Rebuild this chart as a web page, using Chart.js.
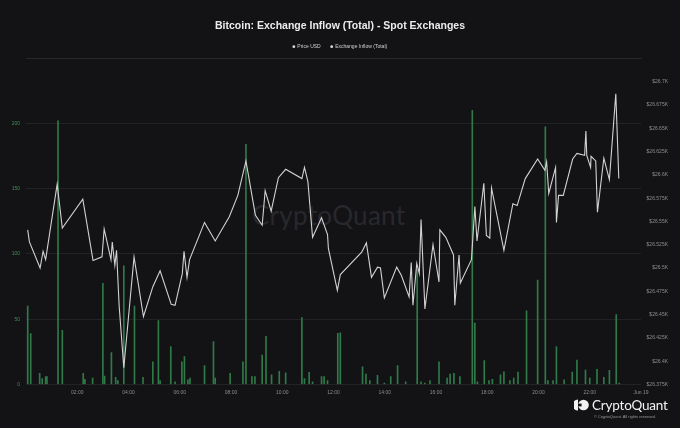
<!DOCTYPE html>
<html>
<head>
<meta charset="utf-8">
<script src="https://cdn.jsdelivr.net/npm/chart.js@4.4.0/dist/chart.umd.min.js"></script>
<style>
  html, body { margin: 0; padding: 0; background: #131316; }
  #wrap { position: relative; width: 680px; height: 428px; overflow: hidden; }
  #chart { position: absolute; left: 0; top: 0; z-index: 1; }
  #watermark {
    position: absolute; left: 252px; top: 199px; z-index: 0;
    font-family: Lato, sans-serif; font-size: 26px; color: #28282d; letter-spacing: 0.3px;
  }
  #logo { position: absolute; left: 574px; top: 397px; z-index: 2; display: flex; align-items: center; }
  #logo span { font-family: Lato, sans-serif; font-size: 13.5px; color: #f2f2f2; margin-left: 3px; letter-spacing: -0.2px; }
  #copy {
    position: absolute; left: 594px; top: 414px; z-index: 2;
    font-family: 'Liberation Sans', Arial, sans-serif; font-size: 4px; color: #9a9a9a;
  }
</style>
</head>
<body>
<div id="wrap">
  <div id="watermark">CryptoQuant</div>
  <canvas id="chart" width="680" height="428"></canvas>
  <div id="logo">
    <svg width="15" height="12" viewBox="0 0 15 12">
      <path d="M4 0.5 A5.5 5.5 0 0 0 4 11.5 Z" fill="#f2f2f2"/>
      <circle cx="9.5" cy="6" r="5.3" fill="#f2f2f2"/>
      <rect x="4" y="4.6" width="3.6" height="2.8" fill="#131316"/>
    </svg>
    <span>CryptoQuant</span>
  </div>
  <div id="copy">© CryptoQuant. All rights reserved.</div>
</div>
<script>
// Precio BTC (minutos desde las 00:00 del 18 jun)
const priceTimes = [4, 8, 33, 40, 46, 73, 85, 133, 157, 178,
  183, 199, 202, 208, 212, 218, 229, 253, 275, 297,
  314, 340, 349, 366, 370, 377, 383, 418, 443, 476,
  496, 515, 537, 553, 560, 574, 591, 608, 646, 652,
  660, 671, 692, 706, 708, 729, 736, 786, 797, 809,
  823, 830, 839, 868, 879, 897, 902, 906, 915, 921,
  925, 934, 953, 967, 969, 983, 1001, 1004, 1014, 1017,
  1043, 1051, 1056, 1072, 1078, 1086, 1090, 1119, 1140, 1150,
  1169, 1198, 1215, 1219, 1224, 1240, 1242, 1247, 1258, 1280,
  1290, 1308, 1311, 1313, 1322, 1323, 1334, 1338, 1353, 1366,
  1381, 1388];
const priceValues = [26541, 26528, 26500, 26518, 26509, 26590, 26543, 26574, 26508, 26512,
  26542, 26509, 26528, 26503, 26519, 26460, 26393, 26512, 26448, 26480,
  26497, 26461, 26460, 26494, 26518, 26490, 26509, 26549, 26529, 26555,
  26578, 26615, 26557, 26546, 26583, 26561, 26597, 26606, 26596, 26608,
  26593, 26533, 26554, 26536, 26521, 26476, 26493, 26517, 26527, 26490,
  26501, 26500, 26468, 26501, 26492, 26469, 26506, 26460, 26505, 26494,
  26552, 26456, 26525, 26485, 26541, 26533, 26514, 26460, 26514, 26484,
  26509, 26566, 26529, 26591, 26535, 26532, 26586, 26519, 26569, 26567,
  26596, 26617, 26605, 26614, 26580, 26608, 26549, 26578, 26578, 26617,
  26623, 26621, 26647, 26621, 26608, 26620, 26615, 26560, 26618, 26595,
  26687, 26596];

// Exchange inflow por bloque
const inflowTimes = [4, 11, 32, 38, 46, 49, 75, 85, 134, 138,
  156, 180, 184, 200, 210, 215, 229, 254, 274, 297,
  310, 314, 339, 349, 365, 371, 379, 384, 418, 439,
  443, 478, 508, 515, 529, 536, 553, 562, 575, 593,
  608, 646, 652, 663, 671, 692, 698, 706, 730, 736,
  788, 796, 805, 823, 839, 854, 870, 889, 916, 925,
  934, 946, 967, 986, 993, 1002, 1016, 1045, 1051, 1057,
  1073, 1084, 1092, 1111, 1119, 1133, 1142, 1152, 1172, 1198,
  1216, 1222, 1234, 1242, 1260, 1279, 1290, 1310, 1320, 1337,
  1353, 1366, 1382, 1389];
const inflowValues = [60, 39, 8.5, 4.5, 6, 6, 202, 41.5, 8.5, 4,
  5, 77.5, 6.5, 24.4, 5.5, 3, 91, 60, 5.5, 17.4,
  49, 3, 29, 2, 17.4, 21.3, 3.5, 5, 14.5, 32.8,
  5, 8.5, 17.4, 184, 6, 6, 22.6, 37, 7.5, 10,
  9, 51.3, 4.5, 9.3, 2, 6, 6, 3, 39.3, 39.5,
  13.5, 8, 3, 7, 1, 6, 14.5, 2, 88, 2,
  1, 3, 17.3, 5, 8, 8.5, 6, 210, 47, 2,
  18.3, 3, 4, 7.5, 9.8, 3, 5, 9.6, 56.5, 80,
  197.5, 3, 3, 29, 3.5, 9.5, 18.8, 11, 5, 11.7,
  5.5, 10.8, 53.5, 1];

const xTickValues = [120, 240, 360, 480, 600, 720, 840, 960, 1080, 1200, 1320, 1440];
const xTickLabels = ['02:00', '04:00', '06:00', '08:00', '10:00', '12:00', '14:00', '16:00', '18:00', '20:00', '22:00', 'Jun 19'];
const inflowTicks = [0, 50, 100, 150, 200];
const priceTicks = [26375, 26400, 26425, 26450, 26475, 26500, 26525, 26550, 26575, 26600, 26625, 26650, 26675, 26700];

Chart.defaults.font.family = "'Liberation Sans', Arial, sans-serif";

// hueco entre la leyenda y el área del gráfico, con la línea separadora
const headerGap = {
  id: 'headerGap',
  beforeInit(chart) {
    Chart.layouts.addBox(chart, {
      position: 'top', weight: 10, fullSize: true,
      options: {},
      left: 0, top: 0, right: 0, bottom: 0, width: 0, height: 0,
      update(maxWidth) { this.width = maxWidth; this.height = 22.5; },
      isHorizontal() { return true; },
      draw() {}
    });
  },
  afterDraw(chart) {
    const ctx = chart.ctx;
    ctx.save();
    ctx.strokeStyle = '#28282c';
    ctx.lineWidth = 1;
    ctx.beginPath();
    ctx.moveTo(26, 58.5);
    ctx.lineTo(642, 58.5);
    ctx.stroke();
    ctx.restore();
  }
};

new Chart(document.getElementById('chart'), {
  type: 'bar',
  data: {
    datasets: [{
      type: 'line',
      label: 'Price USD',
      data: priceTimes.map((t, i) => ({ x: t, y: priceValues[i] })),
      yAxisID: 'yPrice',
      borderColor: '#d2d2d2',
      backgroundColor: '#d2d2d2',
      borderWidth: 1.1,
      pointRadius: 0,
      tension: 0,
      order: 0
    }, {
      type: 'bar',
      label: 'Exchange Inflow (Total)',
      data: inflowTimes.map((t, i) => ({ x: t, y: inflowValues[i] })),
      yAxisID: 'y',
      backgroundColor: '#2f7a48',
      barThickness: 1,
      order: 1
    }]
  },
  options: {
    responsive: false,
    animation: false,
    devicePixelRatio: 1,
    layout: { padding: { left: 12, top: 0, bottom: 0, right: 12 } },
    plugins: {
      title: {
        display: true,
        text: 'Bitcoin: Exchange Inflow (Total) - Spot Exchanges',
        color: '#ececec',
        font: { size: 10.5, weight: 'bold' },
        padding: { top: 19.7, bottom: 1.9 }
      },
      legend: {
        labels: {
          color: '#d0d0d0',
          font: { size: 5 },
          usePointStyle: true,
          pointStyle: 'circle',
          boxWidth: 2,
          boxHeight: 2,
          padding: 10,
          generateLabels(chart) {
            const items = Chart.defaults.plugins.legend.labels.generateLabels(chart);
            items.forEach(it => { it.fillStyle = '#d8d8d8'; it.strokeStyle = '#d8d8d8'; it.lineWidth = 0; });
            return items;
          }
        }
      },
      tooltip: { enabled: false }
    },
    scales: {
      x: {
        type: 'linear',
        min: 0,
        max: 1440,
        offset: false,
        grid: { display: false, drawTicks: false },
        border: { display: false },
        afterBuildTicks(s) { s.ticks = xTickValues.map(v => ({ value: v })); },
        afterFit(s) { s.height = 43.5; },
        ticks: {
          autoSkip: false,
          maxRotation: 0,
          padding: 5.5,
          color: '#8c8c8c',
          font: { size: 5 },
          callback: (v, i) => xTickLabels[i]
        }
      },
      y: {
        position: 'left',
        min: 0,
        max: 232,
        grid: { color: '#232327', drawTicks: false },
        border: { display: false },
        afterBuildTicks(s) { s.ticks = inflowTicks.map(v => ({ value: v })); },
        afterFit(s) { s.width = 14; },
        ticks: { color: '#3f8f57', font: { size: 5 }, padding: 6 }
      },
      yPrice: {
        position: 'right',
        min: 26375,
        max: 26700,
        grid: { display: false, drawTicks: false },
        border: { display: false },
        afterBuildTicks(s) { s.ticks = priceTicks.map(v => ({ value: v })); },
        afterFit(s) { s.width = 27; },
        ticks: {
          color: '#8e8e8e',
          font: { size: 5 },
          padding: 5,
          crossAlign: 'far',
          callback: v => '$' + (v / 1000) + 'K'
        }
      }
    }
  },
  plugins: [headerGap]
});
</script>
</body>
</html>
